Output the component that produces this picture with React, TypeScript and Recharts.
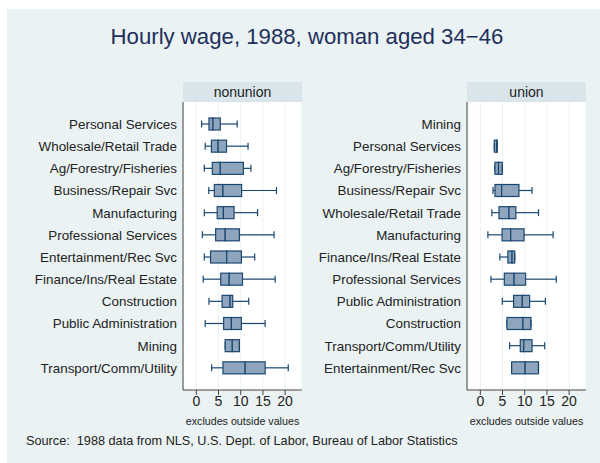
import { ComposedChart, Bar, XAxis, YAxis, CartesianGrid } from 'recharts'

// nonunion panel, top to bottom
const nonunionIndustries = [
  'Personal Services',
  'Wholesale/Retail Trade',
  'Ag/Forestry/Fisheries',
  'Business/Repair Svc',
  'Manufacturing',
  'Professional Services',
  'Entertainment/Rec Svc',
  'Finance/Ins/Real Estate',
  'Construction',
  'Public Administration',
  'Mining',
  'Transport/Comm/Utility',
]
const nonunionLo = [1.2, 2.0, 1.8, 2.8, 1.8, 1.35, 1.8, 1.55, 2.85, 2.0, 6.5, 3.45]
const nonunionQ1 = [2.85, 3.4, 3.6, 4.05, 4.7, 4.35, 3.2, 5.5, 5.8, 6.15, 6.5, 6.0]
const nonunionMed = [3.75, 4.9, 5.4, 6.0, 6.1, 6.5, 6.85, 7.4, 7.6, 7.9, 8.1, 11.0]
const nonunionQ3 = [5.4, 6.8, 10.6, 10.2, 8.5, 9.7, 10.15, 10.4, 8.2, 10.15, 9.7, 15.5]
const nonunionHi = [9.2, 11.65, 12.3, 18.05, 13.8, 17.5, 13.15, 17.75, 11.8, 15.5, 9.7, 20.7]

// union panel, top to bottom (Mining has no box)
const unionIndustries = [
  'Mining',
  'Personal Services',
  'Ag/Forestry/Fisheries',
  'Business/Repair Svc',
  'Wholesale/Retail Trade',
  'Manufacturing',
  'Finance/Ins/Real Estate',
  'Professional Services',
  'Public Administration',
  'Construction',
  'Transport/Comm/Utility',
  'Entertainment/Rec Svc',
]
const unionLo = [null, 3.15, 3.3, 2.85, 2.6, 1.7, 4.4, 2.4, 4.95, 6.0, 6.6, 7.05]
const unionQ1 = [null, 3.15, 3.3, 3.3, 4.2, 4.9, 6.2, 5.4, 7.5, 6.0, 9.0, 7.05]
const unionMed = [null, 3.7, 4.1, 4.8, 6.45, 6.85, 7.15, 7.6, 9.45, 9.6, 9.8, 10.1]
const unionQ3 = [null, 3.8, 4.95, 8.7, 8.0, 9.85, 7.75, 10.2, 11.1, 11.4, 11.65, 13.1]
const unionHi = [null, 3.8, 4.95, 11.65, 13.1, 16.4, 7.75, 17.1, 14.65, 11.4, 14.5, 13.1]

const xTicks = [0, 5, 10, 15, 20]

const FONT = '"Liberation Sans", Arial, Helvetica, sans-serif'
const NAVY = '#1a476f'
const BOX_FILL = '#8ea5bd'
const AXIS = '#444'

type Row = {
  name: string
  empty: boolean
  base: number
  wLo: number
  boxLo: number
  boxHi: number
  wHi: number
}

function buildRows(
  names: string[],
  lo: (number | null)[],
  q1: (number | null)[],
  med: (number | null)[],
  q3: (number | null)[],
  hi: (number | null)[]
): Row[] {
  return names.map((name, i) => {
    if (lo[i] == null) {
      return { name, empty: true, base: 0, wLo: 0, boxLo: 0, boxHi: 0, wHi: 0 }
    }
    return {
      name,
      empty: false,
      base: lo[i] as number,
      wLo: (q1[i] as number) - (lo[i] as number),
      boxLo: (med[i] as number) - (q1[i] as number),
      boxHi: (q3[i] as number) - (med[i] as number),
      wHi: (hi[i] as number) - (q3[i] as number),
    }
  })
}

const nonunionRows = buildRows(nonunionIndustries, nonunionLo, nonunionQ1, nonunionMed, nonunionQ3, nonunionHi)
const unionRows = buildRows(unionIndustries, unionLo, unionQ1, unionMed, unionQ3, unionHi)

function Whisker(props: any, side: 'left' | 'right') {
  const { x, y, width, height, payload } = props
  if (payload?.empty || x == null) return <g />
  const cy = y + height / 2
  const capX = side === 'left' ? x : x + width
  return (
    <g>
      <line x1={x} x2={x + width} y1={cy} y2={cy} stroke={NAVY} strokeWidth={1.2} />
      <line x1={capX} x2={capX} y1={cy - 3.5} y2={cy + 3.5} stroke={NAVY} strokeWidth={1.2} />
    </g>
  )
}

function BoxPart(props: any) {
  const { x, y, width, height, payload } = props
  if (payload?.empty || x == null) return <g />
  return <rect x={x} y={y} width={Math.max(width, 0)} height={height} fill={BOX_FILL} stroke={NAVY} strokeWidth={1.2} />
}

function Panel({ rows, title, left, axisWidth }: { rows: Row[]; title: string; left: number; axisWidth: number }) {
  const plotW = 119
  const marginRight = 6
  return (
    <>
      <div
        style={{
          position: 'absolute',
          left: left + axisWidth,
          top: 82,
          width: plotW,
          height: 20,
          background: '#d9e5eb',
          color: '#222',
          fontFamily: FONT,
          fontSize: 14,
          lineHeight: '20px',
          textAlign: 'center',
        }}
      >
        {title}
      </div>
      <div style={{ position: 'absolute', left, top: 0 }}>
        <ComposedChart
          width={axisWidth + plotW + marginRight}
          height={430}
          data={rows}
          layout="vertical"
          margin={{ top: 102, right: marginRight, bottom: 5, left: 0 }}
          barSize={12}
        >
          <CartesianGrid horizontal={false} vertical={true} stroke="#eaf2f3" fill="#ffffff" />
          <XAxis
            type="number"
            domain={[-3, 23.8]}
            ticks={xTicks}
            tickSize={5}
            tickMargin={1}
            stroke={AXIS}
            tick={{ fontSize: 14, fill: '#222', fontFamily: FONT }}
            height={35}
            label={{
              value: 'excludes outside values',
              position: 'insideBottom',
              offset: 0,
              style: { fontSize: 10.7, fill: '#222', fontFamily: FONT },
            }}
          />
          <YAxis
            type="category"
            dataKey="name"
            width={axisWidth}
            interval={0}
            tickLine={false}
            tickSize={6}
            tickMargin={0}
            stroke={AXIS}
            padding={{ top: 11, bottom: 11 }}
            tick={{ fontSize: 13.4, fill: '#222', fontFamily: FONT }}
          />
          <Bar dataKey="base" stackId="box" isAnimationActive={false} shape={() => <g />} />
          <Bar dataKey="wLo" stackId="box" isAnimationActive={false} shape={(p: any) => Whisker(p, 'left')} />
          <Bar dataKey="boxLo" stackId="box" isAnimationActive={false} shape={BoxPart} />
          <Bar dataKey="boxHi" stackId="box" isAnimationActive={false} shape={BoxPart} />
          <Bar dataKey="wHi" stackId="box" isAnimationActive={false} shape={(p: any) => Whisker(p, 'right')} />
        </ComposedChart>
      </div>
    </>
  )
}

export default function App() {
  return (
    <div style={{ position: 'absolute', left: 0, top: 0, width: 600, height: 463, background: '#ffffff', overflow: 'hidden' }}>
      <div style={{ position: 'absolute', left: 7, top: 9, width: 593, height: 454, background: '#eaf2f3' }} />
      <div
        style={{
          position: 'absolute',
          left: 0,
          top: 23,
          width: 614,
          textAlign: 'center',
          fontFamily: FONT,
          fontSize: 22.2,
          color: '#1f2f5c',
          lineHeight: '28px',
        }}
      >
        Hourly wage, 1988, woman aged 34−46
      </div>
      <Panel rows={nonunionRows} title="nonunion" left={0} axisWidth={183} />
      <Panel rows={unionRows} title="union" left={310} axisWidth={157} />
      <div
        style={{
          position: 'absolute',
          left: 26,
          top: 433,
          fontFamily: FONT,
          fontSize: 12.7,
          color: '#222',
          whiteSpace: 'pre',
          lineHeight: '16px',
        }}
      >
        {'Source:  1988 data from NLS, U.S. Dept. of Labor, Bureau of Labor Statistics'}
      </div>
    </div>
  )
}
